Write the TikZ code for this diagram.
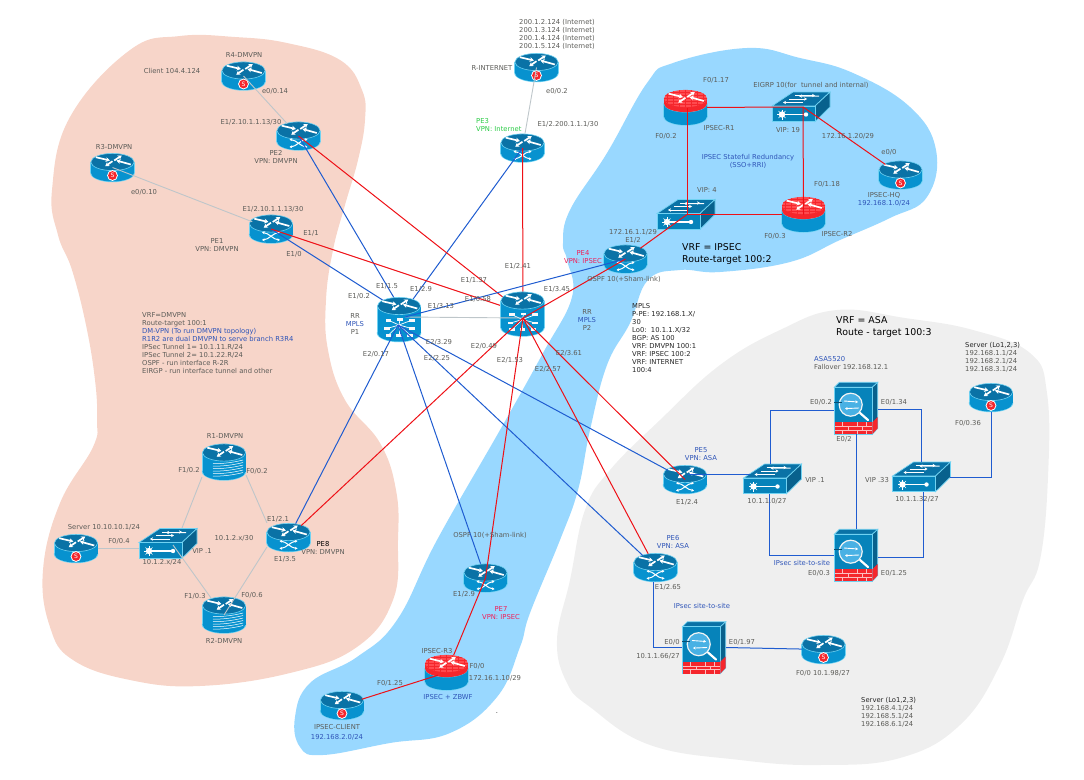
\documentclass[tikz,border=0pt]{standalone}
\usepackage{fontspec}
\setmainfont{DejaVu Sans}
\usetikzlibrary{positioning, arrows.meta, calc, shapes.geometric}
\definecolor{cSalmon}{HTML}{F7D5C9}
\definecolor{cSky}{HTML}{99D8FF}
\definecolor{cFog}{HTML}{EFEFEF}
\definecolor{cSide}{HTML}{0792CF}
\definecolor{cTop}{HTML}{0A72A6}
\definecolor{cRim}{HTML}{70D2F2}
\definecolor{cFire}{HTML}{F5262C}
\definecolor{cFireTop}{HTML}{FF4A4F}
\definecolor{cRed}{HTML}{EE1016}
\definecolor{cBlue}{HTML}{1F5CD0}
\definecolor{cPale}{HTML}{BEC6CA}
\definecolor{cText}{HTML}{5C5C58}
\definecolor{cLabelBlue}{HTML}{2F55B8}
\definecolor{cLabelGreen}{HTML}{2ACB45}
\definecolor{cLabelRed}{HTML}{F0205A}
\newcommand{\lbfont}{\fontsize{6.8}{8}\selectfont}
\newcommand{\bigfont}{\fontsize{9.4}{12}\selectfont}

% cylinder between top ellipse y=#1 and bottom ellipse y=#2
\newcommand{\cylbody}[2]{
    \fill[cRim] (0,#2) ellipse (22.2pt and 9.2pt);
    \fill[cRim] (-22.2,#1) rectangle (22.2,#2);
    \fill[cSide] (0,#2) ellipse (21.5pt and 8.5pt);
    \fill[cSide] (-21.5,#1) rectangle (21.5,#2);
    \fill[cTop, draw=cRim, line width=0.6pt] (0,#1) ellipse (21.6pt and 8.6pt);
}
% four arrows on a router lid, lid centre at y=#1
\newcommand{\lidarrows}[1]{
    \begin{scope}[shift={(0,#1)}]
        \draw[lidarr] (-16.7,-4.8) -- (-2.7,-1.5);
        \draw[lidarr] (0,-0.8) -- (-7.3,4.2);
        \draw[lidarr] (1.7,-1.5) -- (9.3,-6.5);
        \draw[lidarr] (18.3,2.5) -- (4,-1.5);
    \end{scope}
}
\tikzset{
    lidarr/.style={draw=white, line width=1.7pt, -{Stealth[length=4pt,width=4.8pt]}},
    xarr/.style={draw=white, line width=1pt, {Stealth[length=2.6pt,width=3pt]}-{Stealth[length=2.6pt,width=3pt]}},
    % --- Device icons ---
    pics/plainrouter/.style={code={
        \cylbody{-5.5}{5.5}
        \lidarrows{-5.5}
    }},
    pics/svcrouter/.style={code={
        \cylbody{-5.5}{5.5}
        \lidarrows{-5.5}
        \fill[white] (0,8) circle (5.4pt);
        \fill[cFire] (0,8) circle (4.4pt);
        \node[text=white, inner sep=0pt, font=\fontsize{6}{6}\selectfont] (-badge) at (0,8) {S};
    }},
    pics/perouter/.style={code={
        \cylbody{-5.5}{5.5}
        \lidarrows{-5.5}
        \draw[xarr] (-9,3.5) .. controls (-2,4) and (2,10.5) .. (9,11);
        \draw[xarr] (-9,11) .. controls (-2,10.5) and (2,4) .. (9,3.5);
    }},
    pics/firerouter/.style={code={
        \cylbody{-4}{9}
        \fill[cFire] (0,-4) ellipse (21.6pt and 8.6pt);
        \fill[cFire] (-21.6,-9) rectangle (21.6,-4);
        \fill[cFireTop] (0,-9) ellipse (21.6pt and 8.6pt);
        \begin{scope}
            \clip (0,-9) ellipse (21.6pt and 8.6pt);
            \foreach \gy in {-15,-12,-9,-6,-3}
                \draw[cFire, line width=0.3pt] (-22,\gy) -- (22,\gy);
            \foreach \gx in {-18,-12,-6,0,6,12,18}
                \draw[cFire, line width=0.3pt] (\gx,-18) -- (\gx,0);
        \end{scope}
        \lidarrows{-9}
    }},
    pics/hubrouter/.style={code={
        \cylbody{-13.5}{13.5}
        \lidarrows{-13.5}
        \foreach \hx/\hy in {-10.7/0.7, 1/0, 12.7/0.7, -12/9, 12.7/9, -10.7/15.7, 0/15.7, 11/15.7} {
            \draw[white, line width=0.7pt] (0,5.5) -- (\hx,\hy);
            \fill[white!90!cPale] (\hx-2.8,\hy-1.4) rectangle (\hx+2.8,\hy+1.4);
        }
    }},
    pics/stackrouter/.style={code={
        \cylbody{-9.5}{9.5}
        \lidarrows{-9.5}
        \foreach \sy in {-1.5,1,3.5,6,8.5,11}
            \draw[white, line width=0.5pt] (-11,\sy+3) .. controls (-4,\sy+3.6) and (10,\sy+2) .. (19,\sy-0.5);
    }},
    pics/lanswitch/.style={code={
        \fill[cTop, draw=cRim, line width=0.7pt] (-29,-1) -- (-8,-15) -- (29,-15) -- (14,-1) -- cycle;
        \fill[cTop!85!black, draw=cRim, line width=0.7pt] (14,-1) -- (29,-15) -- (29,0) -- (14,14.7) -- cycle;
        \fill[cSide!90!black, draw=cRim, line width=0.7pt] (-29,-1) rectangle (14,14.7);
        \draw[white, line width=1pt, -{Stealth[length=3pt,width=3.4pt]}] (-6,-11.5) -- (14,-11.5);
        \draw[white, line width=1pt, -{Stealth[length=3pt,width=3.4pt]}] (-12,-8) -- (6,-8);
        \draw[white, line width=1pt, -{Stealth[length=3pt,width=3.4pt]}] (18,-11) -- (-2,-10.9);
        \draw[white, line width=1pt, -{Stealth[length=3pt,width=3.4pt]}] (2,-4.5) -- (-18,-4.5);
        \draw[white, line width=1.3pt] (-19,7.5) -- (5,7.5);
        \fill[white] (-19,7.5) circle (3.2pt);
        \fill[white] (5,7.5) circle (2.2pt);
        \foreach \sa in {0,45,...,315}
            \draw[white, line width=0.4pt] (-19,7.5) -- ++(\sa:5pt);
    }},
    pics/asawall/.style={code={
        \fill[cTop, draw=cRim, line width=0.7pt] (-21.7,-20.7) -- (-16.7,-25.7) -- (21.7,-25.7) -- (16.3,-20.7) -- cycle;
        \fill[cTop!85!black, draw=cRim, line width=0.7pt] (16.3,-20.7) -- (21.7,-25.7) -- (21.7,20.5) -- (16.3,26) -- cycle;
        \fill[cSide!90!black, draw=cRim, line width=0.7pt] (-21.7,-20.7) rectangle (16.3,26);
        % brick strip
        \fill[cFire] (-21.4,14.3) rectangle (16.3,26);
        \fill[cFire] (16.3,14.3) -- (21.6,9) -- (21.6,20.5) -- (16.3,26) -- cycle;
        \foreach \by in {18.2,22.1}
            \draw[white!70!cFire, line width=0.4pt] (-21.4,\by) -- (16.3,\by);
        \foreach \bx in {-14,1,10}
            \draw[white!70!cFire, line width=0.4pt] (\bx,14.3) -- (\bx,18.2);
        \foreach \bx in {-8,6}
            \draw[white!70!cFire, line width=0.4pt] (\bx,18.2) -- (\bx,22.1);
        \foreach \bx in {-14,1,10}
            \draw[white!70!cFire, line width=0.4pt] (\bx,22.1) -- (\bx,26);
        % magnifier
        \draw[white, line width=2.2pt, line cap=round] (4,5) -- (12,12);
        \fill[cSky!45!cSide, draw=white!80!cPale, line width=1.2pt] (-5.3,-3.3) circle (11.5pt);
        \draw[white, line width=0.9pt, -{Stealth[length=2.6pt,width=3pt]}] (-12,-7) -- (2,-6);
        \draw[white, line width=0.9pt, -{Stealth[length=2.6pt,width=3pt]}] (3,0) -- (-11,0.6);
        \draw[cTop!70!black, line width=0.7pt] (-21.7,-6) -- (-14,-6);
    }},
}

\begin{document}
\begin{tikzpicture}[
    x=1pt, y=-1pt,
    % --- Node styles ---
    devr/.style={ellipse, minimum width=43pt, minimum height=29pt, inner sep=0pt},
    devtall/.style={ellipse, minimum width=43pt, minimum height=36pt, inner sep=0pt},
    devhub/.style={ellipse, minimum width=44pt, minimum height=43pt, inner sep=0pt},
    devsw/.style={rectangle, minimum width=57pt, minimum height=29pt, inner sep=0pt},
    devasa/.style={rectangle, minimum width=44pt, minimum height=52pt, inner sep=0pt},
    % --- Arrow styles ---
    redln/.style={draw=cRed, line width=1pt},
    blueln/.style={draw=cBlue, line width=1pt},
    paleln/.style={draw=cPale, line width=0.9pt},
    % --- Annotation styles ---
    lb/.style={font=\lbfont, text=cText, inner sep=0pt, align=center},
    lbb/.style={lb, text=cLabelBlue},
    lbk/.style={lb, text=black!85},
    lbr/.style={lb, text=cLabelRed},
    lbg/.style={lb, text=cLabelGreen},
    vrf/.style={font=\bigfont, text=black, inner sep=0pt, align=left, anchor=west},
]
\useasboundingbox (0,0) rectangle (1084,779);

% =============================================
% REGIONS
% =============================================

\fill[cSalmon] plot[smooth cycle, tension=0.7] coordinates {
    (180,36) (235,37) (287,43) (340,60) (362,90) (365,120) (358,160) (345,205)
    (333,250) (326,300) (328,350) (345,400) (380,443) (396,490) (398,540) (393,600)
    (357,647) (290,673) (200,686) (130,680) (73,660) (50,627) (43,570) (60,503)
    (93,447) (97,420) (95,380) (86,325) (72,270) (58,235) (52,190) (70,117) (130,50)};
\fill[cSky] plot[smooth cycle, tension=0.7] coordinates {
    (747,48) (800,58) (853,73) (910,107) (936,150) (927,197) (890,218) (840,240)
    (790,262) (720,272) (680,270) (648,280) (630,323) (607,365) (590,430) (578,490)
    (560,540) (530,613) (520,647) (497,697) (450,733) (390,743) (323,755) (300,747)
    (295,717) (310,683) (357,657) (397,620) (437,540) (500,430) (543,353) (572,297)
    (567,260) (563,243) (570,210) (607,153) (647,83) (673,63)};
\fill[cFog] plot[smooth cycle, tension=0.7] coordinates {
    (837,310) (905,318) (973,330) (1030,353) (1047,393) (1048,477) (1040,560) (1023,600)
    (1000,665) (960,725) (900,758) (820,765) (740,760) (650,745) (590,707) (567,683)
    (557,640) (570,580) (585,510) (610,470) (660,420) (720,365) (780,330)};

% =============================================
% DEVICES
% =============================================

\foreach \nm/\px/\py in {r4d/243.5/76, r3d/112.5/167.5, rinet/536.5/67.5, iphq/900.5/175,
        srvb/76/548.5, srvr/991/397.5, rtr/823.5/649.5, ipcl/342/705.5} {
    \node[devr] (\nm) at (\px,\py) {};
    \pic (\nm) at (\nm) {svcrouter};
}
\foreach \nm/\px/\py in {pe1/271/229, pe2/298.5/136, pe3/522.5/148, pe4/625.5/259,
        pe5/685/479.5, pe6/655.5/567.5, pe7/485.5/578, pe8/288.5/537.5} {
    \node[devr] (\nm) at (\px,\py) {};
    \pic at (\nm) {perouter};
}
\foreach \nm/\px/\py in {ipr1/685.5/107.5, ipr2/803.5/214.5, ipr3/446.5/672.5} {
    \node[devtall] (\nm) at (\px,\py) {};
    \pic at (\nm) {firerouter};
}
\foreach \nm/\px/\py in {r1d/224/462, r2d/224/615} {
    \node[devtall] (\nm) at (\px,\py) {};
    \pic at (\nm) {stackrouter};
}
\foreach \nm/\px/\py in {swtr/801/107, swv/686/214.5, swb/168/543.5, swc/772.5/479, swd/921.5/477} {
    \node[devsw] (\nm) at (\px,\py) {};
    \pic at (\nm) {lanswitch};
}
\foreach \nm/\px/\py in {asaa/856/408, asab/856/555, asal/704/647.5} {
    \node[devasa] (\nm) at (\px,\py) {};
    \pic at (\nm) {asawall};
}
\node[devhub] (p1) at (399,319.5) {};
\node[devhub] (p2) at (522.5,314) {};

% =============================================
% LINKS INTO THE TOP OF P1 AND P2
% =============================================

\coordinate (p1in) at (403,313);
\coordinate (p2in) at (523,313);
\coordinate (p1hub) at (398,325);
\coordinate (p2hub) at (523,318);
\coordinate (p1e) at (405,317);

\draw[blueln] (pe1.center) -- (p1in);
\draw[blueln] (pe2.center) -- (p1in);
\draw[blueln] (pe3.center) -- (p1in);
\draw[redln] (pe1.center) -- (p2in);
\draw[redln] (pe2.center) -- (p2in);
\draw[redln] (pe3.center) -- (p2in);

\pic at (p1) {hubrouter};
\pic at (p2) {hubrouter};

% =============================================
% CORE LINKS
% =============================================

\draw[paleln] (p1e) -- (p2hub);
\draw[blueln] (pe4.center) -- (p1e);
\draw[redln] (pe4.center) -- (p2hub);
\draw[blueln] (p1hub) -- (pe8);
\draw[blueln] (p1hub) -- (pe7);
\draw[blueln] (p1hub) -- (pe5);
\draw[blueln] (p1hub) -- (pe6);
\draw[redln] (p2hub) -- (pe8);
\draw[redln] (p2hub) -- (pe7.center);
\draw[redln] (p2hub) -- (pe5.center);
\draw[redln] (p2hub) -- (pe6);

% Internet and DMVPN spokes
\draw[paleln] (r4d.center) -- (pe2);
\draw[paleln] (r3d.center) -- (pe1);
\draw[paleln] (rinet.center) -- (pe3);
\draw[paleln] (srvb.east) -- (srvb.east -| swb.west);
\draw[paleln] ($(swb)+(14,-15.5)$) -- ($(r1d)+(-22,15)$);
\draw[paleln] ($(swb)+(5,1.5)$) -- ($(r2d)+(-13,-17)$);
\draw[paleln] ($(r1d)+(22,13)$) -- ($(pe8)+(-21.5,-14.5)$);
\draw[paleln] ($(pe8)+(-21.5,9.5)$) -- (r2d.center);

% IPSEC ring
\coordinate (swtrhub) at ($(swtr)+(2,0)$);
\coordinate (swvhub) at ($(swv)+(1,0)$);
\draw[redln] (ipr1) -- (swtrhub);
\draw[redln] (swtrhub) -- (ipr2.center);
\draw[redln] (swtrhub) -- (iphq);
\draw[redln] (swvhub |- ipr1) -- (swvhub);
\draw[redln] (swvhub) -- (ipr2);
\draw[redln] (pe4) -- (swvhub);
\draw[redln] (pe7.center) -- (ipr3);
\draw[redln, shorten >=9pt] (ipcl) -- (ipr3.center);

% ASA block
\draw[blueln] ($(pe5)+(3,-5.5)$) -- ($(swc)+(-22.5,-5)$);
\draw[blueln] ($(swc.north)+(-2.5,0)$) |- ($(asaa.west)+(0,2)$);
\draw[blueln] ($(swc.south)+(-3.5,0)$) |- (asab.west);
\draw[blueln] ($(asaa.east)+(0,1)$) -| (swd.north);
\draw[blueln] ($(swd.south)+(1.5,0)$) |- ($(asab.east)+(0,2)$);
\draw[blueln] (asaa) -- (asab);
\draw[blueln] (swd.east) -| (srvr.south);
\draw[blueln] ($(pe6.south)+(-2.5,0)$) |- (asal.west);
\draw[blueln] (asal.east) -- (rtr);

% =============================================
% LABELS: DMVPN SIDE
% =============================================

\node[lb] (tr4) at (244,55) {R4-DMVPN};
\node[lb] (tclient) at (172,71) {Client 104.4.124};
\node[lb] (tr4e) at (275,91) {e0/0.14};
\node[lb] (tpe2e) at (251,122) {E1/2.10.1.1.13/30};
\node[lb] (tpe2) at (276,157) {PE2\\VPN: DMVPN};
\node[lb] (tr3) at (114,147) {R3-DMVPN};
\node[lb] (tr3e) at (144,192) {e0/0.10};
\node[lb] (tpe1e) at (273,209) {E1/2.10.1.1.13/30};
\node[lb] (tpe1a) at (311,233) {E1/1};
\node[lb] (tpe1b) at (294,254) {E1/0};
\node[lb] (tpe1) at (217,245.5) {PE1\\VPN: DMVPN};

\node[lb, anchor=west, align=left] (tvrfd) at (142,343) {
    VRF=DMVPN\\
    Route-target 100:1\\
    \textcolor{cLabelBlue}{DM-VPN (To run DMVPN topology)}\\
    \textcolor{cLabelBlue}{R1R2 are dual DMVPN to serve branch R3R4}\\
    IPSec Tunnel 1= 10.1.11.R/24\\
    IPSec Tunnel 2= 10.1.22.R/24\\
    OSPF - run interface R-2R\\
    EIRGP - run interface tunnel and other
};

\node[lb] (tr1) at (225,436) {R1-DMVPN};
\node[lb] (tr1f) at (189,470) {F1/0.2};
\node[lb] (tr1g) at (257,471) {F0/0.2};
\node[lb] (tsrvb) at (104,527) {Server 10.10.10.1/24};
\node[lb] (tsrvbf) at (119,541) {F0/0.4};
\node[lb] (tpe8a) at (278,519) {E1/2.1};
\node[lb] (tnet30) at (234,538) {10.1.2.x/30};
\node[lb] (tpe8) at (323,548) {\textcolor{black}{PE8}\\VPN: DMVPN};
\node[lb] (tvipb) at (202,551) {VIP .1};
\node[lb] (tnet24) at (162,562) {10.1.2.x/24};
\node[lb] (tpe8b) at (285,559) {E1/3.5};
\node[lb] (tr2f) at (195,596) {F1/0.3};
\node[lb] (tr2g) at (252,595) {F0/0.6};
\node[lb] (tr2) at (224,641) {R2-DMVPN};

% =============================================
% LABELS: CORE
% =============================================

\node[lb] (tp1a) at (387,286) {E1/1.5};
\node[lb] (tp1b) at (359,296) {E1/0.2};
\node[lb] (tp1c) at (421,289) {E1/2.9};
\node[lb] (tp2a) at (474,280) {E1/1.37};
\node[lb] (tp2b) at (478,299) {E1/0.58};
\node[lb] (tp1d) at (441,306) {E1/3.13};
\node[lb] (tp2c) at (557,289) {E1/3.45};
\node[lb] (tp2d) at (518,266) {E1/2.41};
\node[lb] (tp1) at (355,324) {RR\\\textcolor{cLabelBlue}{MPLS}\\P1};
\node[lb] (tp2) at (587,320) {RR\\\textcolor{cLabelBlue}{MPLS}\\P2};
\node[lb] (tp1e) at (376,354) {E2/0.17};
\node[lb] (tp1f) at (439,342) {E2/3.29};
\node[lb] (tp1g) at (437,358) {E2/2.25};
\node[lb] (tp2e) at (484,346) {E2/0.49};
\node[lb] (tp2f) at (510,360) {E2/1.53};
\node[lb] (tp2g) at (569,353) {E2/3.61};
\node[lb] (tp2h) at (548,369) {E2/2.57};

\node[lbk, anchor=west, align=left] (tmpls) at (632,338) {
    MPLS\\
    P-PE: 192.168.1.X/\\
    30\\
    Lo0:\ \ 10.1.1.X/32\\
    BGP: AS 100\\
    VRF: DMVPN 100:1\\
    VRF: IPSEC 100:2\\
    VRF: INTERNET\\
    100:4
};

% =============================================
% LABELS: INTERNET AND IPSEC
% =============================================

\node[lb] (tinet) at (557,34) {
    200.1.2.124 (Internet)\\
    200.1.3.124 (Internet)\\
    200.1.4.124 (Internet)\\
    200.1.5.124 (Internet)
};
\node[lb] (trinet) at (492,68) {R-INTERNET};
\node[lb] (trinete) at (557,91) {e0/0.2};
\node[lbg, anchor=west, align=left] (tpe3) at (476,125) {PE3\\VPN: Internet};
\node[lb] (tpe3e) at (568,124) {E1/2.200.1.1.1/30};
\node[lb] (tr1a) at (716,80) {F0/1.17};
\node[lb] (teigrp) at (811,85) {EIGRP 10(for\ \ tunnel and internal)};
\node[lb] (tipr1) at (719,128) {IPSEC-R1};
\node[lb] (tr1b) at (666,136) {F0/0.2};
\node[lb] (tvip19) at (788,130) {VIP: 19};
\node[lb] (thqnet) at (848,136) {172.16.1.20/29};
\node[lb] (thqe) at (889,152) {e0/0};
\node[lbb] (tstate) at (748,161) {IPSEC Stateful Redundancy\\(SSO+RRI)};
\node[lb] (tr2a) at (827,184) {F0/1.18};
\node[lb] (tvip4) at (707,190) {VIP: 4};
\node[lb] (tiphq) at (884,199) {IPSEC-HQ\\\textcolor{cLabelBlue}{192.168.1.0/24}};
\node[lb] (tipr2) at (837,234) {IPSEC-R2};
\node[lb] (tr2b) at (775,236) {F0/0.3};
\node[lb] (tpe4e) at (633,236.5) {172.16.1.1/29\\E1/2};
\node[vrf] (tvrfi) at (682,254) {VRF = IPSEC\\Route-target 100:2};
\node[lbr] (tpe4) at (583,257) {PE4\\VPN: IPSEC};
\node[lb] (tsham) at (624,279) {OSPF 10(+Sham-link)};

\node[lb] (tshamb) at (490,535) {OSPF 10(+Sham-link)};
\node[lb] (tpe7e) at (464,594) {E1/2.9};
\node[lbr] (tpe7) at (501,613) {PE7\\VPN: IPSEC};
\node[lb] (tipr3) at (437,651) {IPSEC-R3};
\node[lb] (tr3f) at (477,666) {F0/0};
\node[lb] (tr3n) at (495,678) {172.16.1.10/29};
\node[lb] (tclf) at (390,683) {F0/1.25};
\node[lbb] (tzbwf) at (448,697) {IPSEC + ZBWF};
\node[lb] (tipcl) at (337,727) {IPSEC-CLIENT};
\node[lbb] (tclnet) at (337,737) {192.168.2.0/24};
\node[lbk] (tdot) at (497,713) {.};

% =============================================
% LABELS: ASA SIDE
% =============================================

\node[vrf] (tvrfa) at (836,327) {VRF = ASA\\Route - target 100:3};
\node[lb, anchor=west, align=left] (tsrvr) at (965,357) {
    \textcolor{black!85}{Server (Lo1,2,3)}\\
    192.168.1.1/24\\
    192.168.2.1/24\\
    192.168.3.1/24
};
\node[lb, anchor=west, align=left] (tasa) at (814,363) {\textcolor{cLabelBlue}{ASA5520}\\Fallover 192.168.12.1};
\node[lb] (tasaa) at (821,402) {E0/0.2};
\node[lb] (tasab) at (894,402) {E0/1.34};
\node[lb] (tsrvrf) at (968,423) {F0/0.36};
\node[lb] (tasac) at (844,439) {E0/2};
\node[lbb] (tpe5) at (701,454.5) {PE5\\VPN: ASA};
\node[lb] (tvipc) at (815,480) {VIP .1};
\node[lb] (tvipd) at (877,480) {VIP .33};
\node[lb] (tnetc) at (767,501) {10.1.1.0/27};
\node[lb] (tnetd) at (917,499) {10.1.1.32/27};
\node[lb] (tpe5e) at (687,502) {E1/2.4};
\node[lbb] (tpe6) at (673,542.5) {PE6\\VPN: ASA};
\node[lbb] (tsitea) at (802,563) {IPsec site-to-site};
\node[lb] (tasad) at (819,573) {E0/0.3};
\node[lb] (tasae) at (894,573) {E0/1.25};
\node[lb] (tpe6e) at (668,587) {E1/2.65};
\node[lbb] (tsiteb) at (702,606) {IPsec site-to-site};
\node[lb] (tasaf) at (672,642) {E0/0};
\node[lb] (tasag) at (742,642) {E0/1.97};
\node[lb] (tasah) at (658,656) {10.1.1.66/27};
\node[lb] (trtr) at (823,673) {F0/0 10.1.98/27};
\node[lb, anchor=west, align=left] (tsrvl) at (861,712) {
    \textcolor{black!85}{Server (Lo1,2,3)}\\
    192.168.4.1/24\\
    192.168.5.1/24\\
    192.168.6.1/24
};

\end{tikzpicture}
\end{document}
